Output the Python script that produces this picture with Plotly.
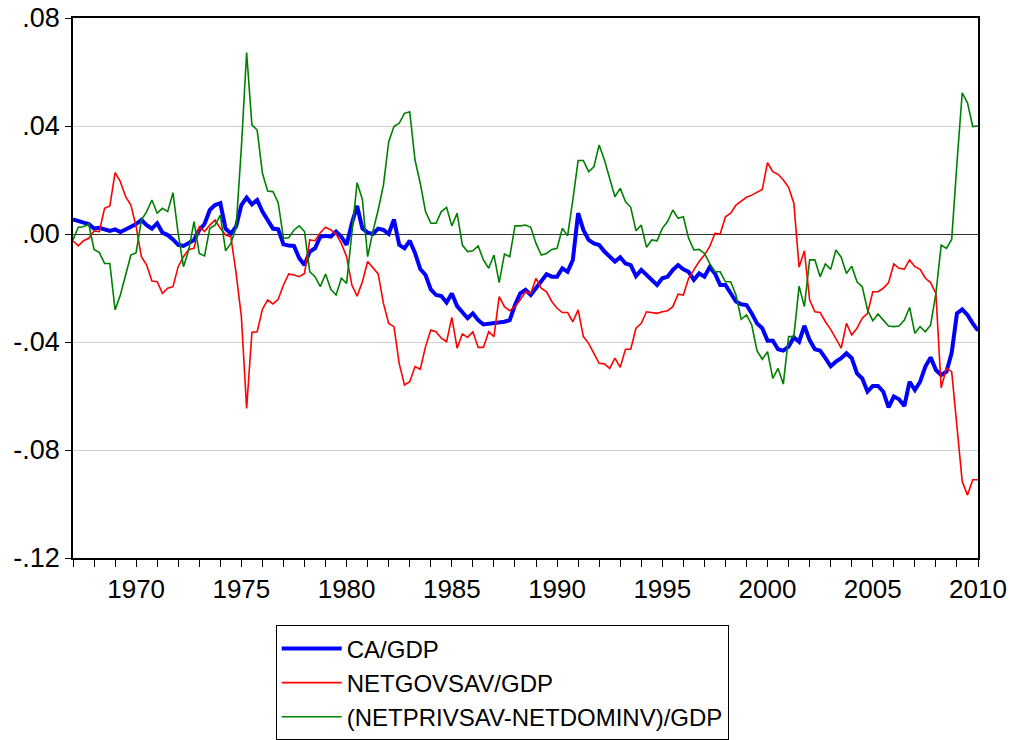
import plotly.graph_objects as go

# quarterly observations, 1967Q1 .. 2010Q1
start_year = 1967

ca_gdp = [
    0.0054, 0.0047, 0.0042, 0.0037,
    0.0020, 0.0023, 0.0017, 0.0011,
    0.0017, 0.0007, 0.0017, 0.0027,
    0.0037, 0.0052, 0.0033, 0.0020,
    0.0040, 0.0005, -0.0004, -0.0020,
    -0.0040, -0.0044, -0.0035, -0.0022,
    0.0015, 0.0037, 0.0089, 0.0107,
    0.0114, 0.0020, 0.0002, 0.0027,
    0.0107, 0.0135, 0.0110, 0.0126,
    0.0083, 0.0052, 0.0020, 0.0017,
    -0.0038, -0.0043, -0.0044, -0.0090,
    -0.0115, -0.0065, -0.0053, -0.0010,
    -0.0007, -0.0010, 0.0009, -0.0010,
    -0.0040, 0.0040, 0.0104, 0.0021,
    0.0005, 0.0000, 0.0020, 0.0015,
    0.0000, 0.0054, -0.0040, -0.0053,
    -0.0025, -0.0070, -0.0130, -0.0152,
    -0.0205, -0.0226, -0.0230, -0.0254,
    -0.0220, -0.0267, -0.0288, -0.0312,
    -0.0294, -0.0319, -0.0335, -0.0333,
    -0.0331, -0.0328, -0.0325, -0.0319,
    -0.0263, -0.0220, -0.0207, -0.0226,
    -0.0201, -0.0177, -0.0149, -0.0158,
    -0.0158, -0.0127, -0.0140, -0.0096,
    0.0077, 0.0015, -0.0022, -0.0035,
    -0.0041, -0.0065, -0.0084, -0.0102,
    -0.0086, -0.0109, -0.0115, -0.0156,
    -0.0133, -0.0152, -0.0170, -0.0189,
    -0.0164, -0.0158, -0.0133, -0.0115,
    -0.0131, -0.0140, -0.0170, -0.0146,
    -0.0158, -0.0123, -0.0146, -0.0189,
    -0.0189, -0.0220, -0.0250, -0.0260,
    -0.0263, -0.0294, -0.0331, -0.0349,
    -0.0395, -0.0395, -0.0427, -0.0432,
    -0.0417, -0.0383, -0.0399, -0.0340,
    -0.0393, -0.0427, -0.0432, -0.0460,
    -0.0490, -0.0473, -0.0460, -0.0442,
    -0.0460, -0.0516, -0.0535, -0.0584,
    -0.0563, -0.0563, -0.0584, -0.0642,
    -0.0602, -0.0612, -0.0637, -0.0547,
    -0.0578, -0.0547, -0.0491, -0.0457,
    -0.0504, -0.0522, -0.0510, -0.0440,
    -0.0294, -0.0279, -0.0300, -0.0331,
    -0.0358,
]

netgovsav_gdp = [
    -0.0025, -0.0044, -0.0025, -0.0016,
    0.0011, 0.0009, 0.0095, 0.0104,
    0.0227, 0.0194, 0.0138, 0.0107,
    0.0027, -0.0084, -0.0115, -0.0174,
    -0.0177, -0.0220, -0.0201, -0.0195,
    -0.0121, -0.0084, -0.0057, -0.0053,
    0.0027, 0.0009, 0.0033, 0.0052,
    0.0021, -0.0004, -0.0010, -0.0146,
    -0.0306, -0.0646, -0.0365, -0.0362,
    -0.0279, -0.0244, -0.0259, -0.0242,
    -0.0189, -0.0148, -0.0152, -0.0158,
    -0.0146, -0.0022, -0.0025, 0.0005,
    0.0025, 0.0015, 0.0000, -0.0035,
    -0.0084, -0.0189, -0.0230, -0.0177,
    -0.0102, -0.0123, -0.0148, -0.0257,
    -0.0331, -0.0343, -0.0480, -0.0559,
    -0.0547, -0.0491, -0.0501, -0.0417,
    -0.0356, -0.0362, -0.0386, -0.0399,
    -0.0309, -0.0423, -0.0370, -0.0383,
    -0.0362, -0.0420, -0.0420, -0.0362,
    -0.0380, -0.0232, -0.0269, -0.0284,
    -0.0269, -0.0244, -0.0214, -0.0220,
    -0.0164, -0.0201, -0.0214, -0.0250,
    -0.0275, -0.0291, -0.0291, -0.0325,
    -0.0281, -0.0380, -0.0405, -0.0442,
    -0.0479, -0.0481, -0.0498, -0.0460,
    -0.0494, -0.0427, -0.0427, -0.0349,
    -0.0331, -0.0288, -0.0291, -0.0294,
    -0.0288, -0.0284, -0.0269, -0.0223,
    -0.0226, -0.0164, -0.0133, -0.0102,
    -0.0078, -0.0047, 0.0002, 0.0000,
    0.0064, 0.0077, 0.0107, 0.0120,
    0.0136, 0.0144, 0.0153, 0.0165,
    0.0264, 0.0231, 0.0221, 0.0200,
    0.0173, 0.0114, -0.0123, -0.0062,
    -0.0244, -0.0288, -0.0291, -0.0325,
    -0.0353, -0.0386, -0.0423, -0.0331,
    -0.0374, -0.0349, -0.0312, -0.0294,
    -0.0214, -0.0214, -0.0201, -0.0180,
    -0.0111, -0.0127, -0.0130, -0.0096,
    -0.0121, -0.0131, -0.0164, -0.0180,
    -0.0220, -0.0570, -0.0497, -0.0510,
    -0.0710, -0.0917, -0.0967, -0.0910,
    -0.0910,
]

netpriv_minus_dominv_gdp = [
    -0.0022, 0.0025, 0.0027, 0.0037,
    -0.0057, -0.0069, -0.0109, -0.0109,
    -0.0281, -0.0226, -0.0152, -0.0078,
    -0.0069, 0.0052, 0.0083, 0.0126,
    0.0077, 0.0095, 0.0083, 0.0153,
    0.0000, -0.0121, -0.0059, 0.0046,
    -0.0072, -0.0081, 0.0021, 0.0033,
    0.0070, -0.0062, -0.0035, 0.0025,
    0.0320, 0.0672, 0.0404, 0.0385,
    0.0225, 0.0159, 0.0157, 0.0116,
    -0.0016, -0.0014, 0.0015, 0.0030,
    0.0009, -0.0140, -0.0158, -0.0195,
    -0.0148, -0.0205, -0.0226, -0.0164,
    -0.0183, 0.0000, 0.0190, 0.0128,
    -0.0084, 0.0010, 0.0089, 0.0181,
    0.0342, 0.0398, 0.0410, 0.0447,
    0.0453, 0.0274, 0.0188, 0.0083,
    0.0040, 0.0040, 0.0083, 0.0099,
    0.0030, 0.0077, -0.0041, -0.0065,
    -0.0062, -0.0044, -0.0096, -0.0127,
    -0.0078, -0.0180, -0.0074, -0.0084,
    0.0030, 0.0030, 0.0033, 0.0025,
    -0.0035, -0.0078, -0.0072, -0.0057,
    -0.0053, 0.0021, -0.0007, 0.0126,
    0.0272, 0.0272, 0.0231, 0.0249,
    0.0330, 0.0274, 0.0206, 0.0138,
    0.0169, 0.0120, 0.0099, 0.0012,
    0.0033, -0.0049, -0.0022, -0.0025,
    0.0021, 0.0046, 0.0089, 0.0058,
    0.0064, -0.0016, -0.0059, -0.0057,
    -0.0072, -0.0109, -0.0140, -0.0140,
    -0.0177, -0.0177, -0.0226, -0.0316,
    -0.0300, -0.0337, -0.0432, -0.0464,
    -0.0436, -0.0535, -0.0498, -0.0556,
    -0.0380, -0.0380, -0.0193, -0.0269,
    -0.0096, -0.0096, -0.0158, -0.0111,
    -0.0131, -0.0059, -0.0086, -0.0146,
    -0.0119, -0.0177, -0.0195, -0.0281,
    -0.0321, -0.0296, -0.0319, -0.0341,
    -0.0343, -0.0341, -0.0319, -0.0272,
    -0.0368, -0.0343, -0.0362, -0.0337,
    -0.0220, -0.0041, -0.0053, -0.0020,
    0.0262, 0.0523, 0.0486, 0.0398,
    0.0400,
]

year_ticks = [1970, 1975, 1980, 1985, 1990, 1995, 2000, 2005, 2010]
y_ticks = [0.08, 0.04, 0.0, -0.04, -0.08, -0.12]
y_labels = [".08", ".04", ".00", "-.04", "-.08", "-.12"]

# quarter positions in fractional years
t = [start_year + i / 4 for i in range(len(ca_gdp))]

fig = go.Figure()
fig.add_trace(go.Scatter(x=t, y=ca_gdp, mode='lines', name='CA/GDP',
                         line=dict(color='#0000ff', width=4)))
fig.add_trace(go.Scatter(x=t, y=netgovsav_gdp, mode='lines', name='NETGOVSAV/GDP',
                         line=dict(color='#ff0000', width=1.6)))
fig.add_trace(go.Scatter(x=t, y=netpriv_minus_dominv_gdp, mode='lines',
                         name='(NETPRIVSAV-NETDOMINV)/GDP',
                         line=dict(color='#008000', width=1.6)))

fig.update_layout(
    width=1010, height=740,
    margin=dict(l=73, r=32, t=18, b=182, autoexpand=False),
    paper_bgcolor='white', plot_bgcolor='white',
    font=dict(family='Arial, Liberation Sans, sans-serif', color='black'),
    legend=dict(xref='container', yref='container', x=0.273, y=0.155,
                xanchor='left', yanchor='top',
                bordercolor='black', borderwidth=1, bgcolor='white',
                font=dict(size=24), itemwidth=60, tracegroupgap=0),
)
fig.update_xaxes(
    range=[1967, 2010], tickvals=year_ticks, ticks='outside', ticklen=7,
    tickcolor='black', tickfont=dict(size=26), showgrid=False, automargin=False,
    ticklabeloverflow='allow',
    showline=True, linecolor='black', linewidth=1.5, mirror=True,
    minor=dict(dtick=1, tick0=1967, ticks='outside', ticklen=7, tickcolor='black'),
    zeroline=False,
)
fig.update_yaxes(
    range=[-0.12, 0.08], tickvals=y_ticks, ticktext=y_labels, ticks='outside',
    ticklen=6, tickcolor='black', tickfont=dict(size=27), automargin=False,
    ticklabeloverflow='allow',
    showgrid=True, gridcolor='#d3d3d3', gridwidth=1,
    showline=True, linecolor='black', linewidth=1.5, mirror=True,
    zeroline=True, zerolinecolor='#333333', zerolinewidth=1,
)

# drop the default page margin so the figure sits at the window's corner
fig.write_html("out.html", config={'displayModeBar': False},
               post_script="document.body.style.margin='0';"
                           "document.body.style.overflow='hidden';")
